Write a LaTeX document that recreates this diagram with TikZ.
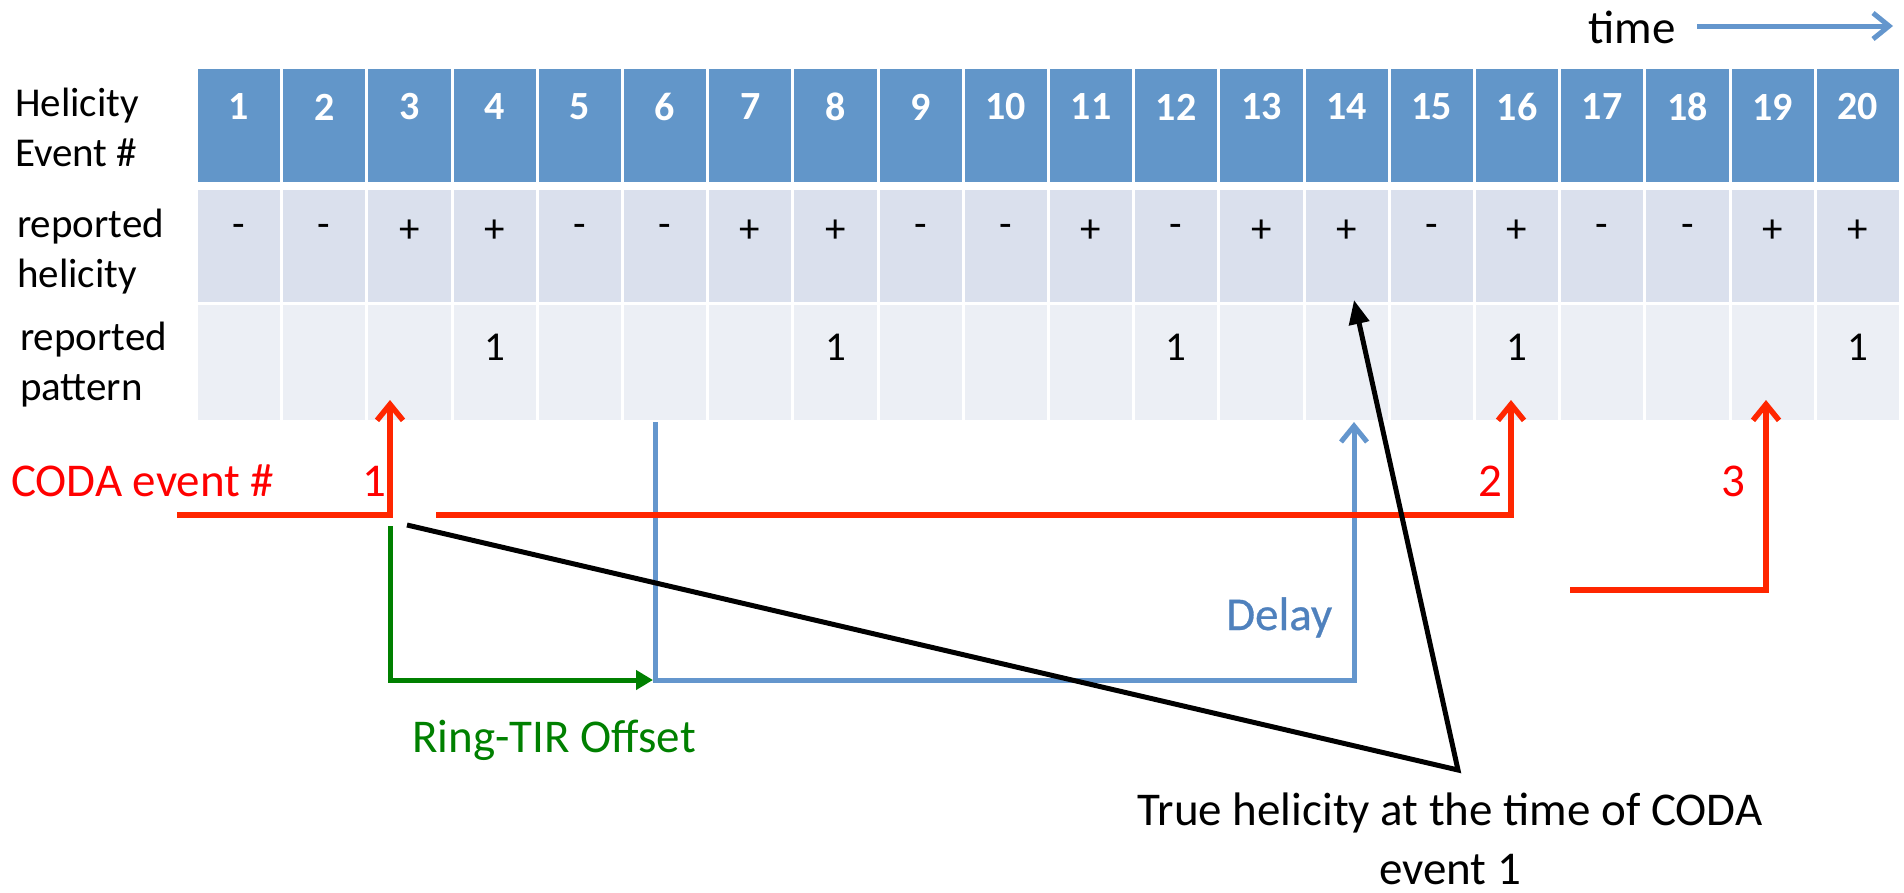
\documentclass[tikz,border=0pt]{standalone}
\usepackage{fontspec}
\setmainfont{Carlito}
\newfontfamily\delayfont[FakeBold=0.6]{Carlito}
\usetikzlibrary{arrows.meta}
\definecolor{hdr}{RGB}{98,150,201}
\definecolor{rowa}{RGB}{218,224,237}
\definecolor{rowb}{RGB}{236,239,245}
\definecolor{redline}{RGB}{255,38,0}
\definecolor{redtext}{RGB}{255,0,0}
\definecolor{grn}{RGB}{0,128,0}
\definecolor{bluel}{RGB}{100,150,205}
\definecolor{bluet}{RGB}{79,129,189}
\begin{document}
\begin{tikzpicture}[x=1pt,y=-1pt,
  lbl/.style={font=\fontsize{41}{50}\selectfont, align=left, inner sep=0pt, anchor=base west},
  hnum/.style={font=\fontsize{40}{48}\selectfont\bfseries, text=white, inner sep=0pt},
  cellt/.style={font=\fontsize{41}{48}\selectfont, inner sep=0pt},
  ann/.style={font=\fontsize{47}{59}\selectfont, inner sep=0pt},
  redarr/.style={draw=redline, line width=5.5pt, -{Straight Barb[length=16pt,width=26pt]}},
  bluearr/.style={draw=bluel, line width=5pt, -{Straight Barb[length=16pt,width=26pt]}},
  grnarr/.style={draw=grn, line width=5pt, -{Triangle[length=17pt,width=19pt]}},
  blkarr/.style={draw=black, line width=5pt, -{Triangle[length=24pt,width=20pt]}}]
\useasboundingbox (0,0) rectangle (1904,892);

% table
\foreach \i in {1,...,20}{
  \pgfmathsetmacro{\xl}{196.4+(\i-1)*85.2}
  \pgfmathsetmacro{\xr}{\xl+85.2}
  \pgfmathsetmacro{\xc}{\xl+42.6}
  \fill[hdr] (\xl+1.5,69) rectangle (\xr-1.5,182);
  \fill[rowa] (\xl+1.5,190) rectangle (\xr-1.5,302);
  \fill[rowb] (\xl+1.5,305) rectangle (\xr-1.5,420);
  \node[hnum] (h\i) at (\xc,107) {\i};
}
\foreach \i/\s in {1/-,2/-,3/+,4/+,5/-,6/-,7/+,8/+,9/-,10/-,11/+,12/-,13/+,14/+,15/-,16/+,17/-,18/-,19/+,20/+}{
  \pgfmathsetmacro{\xc}{196.4+(\i-1)*85.2+42.6}
  \node[cellt] (s\i) at (\xc,231) {\s};
}
\foreach \i in {4,8,12,16,20}{
  \pgfmathsetmacro{\xc}{196.4+(\i-1)*85.2+42.6}
  \node[cellt] (p\i) at (\xc,347) {1};
}

% row labels (base = last line)
\node[lbl] (l1) at (15,166) {Helicity\\Event \#};
\node[lbl] (l2) at (17,287) {reported\\helicity};
\node[lbl] (l3) at (20,400) {reported\\pattern};

% time arrow
\node[ann, anchor=base] (time) at (1632,43) {time};
\coordinate (t0) at (1697,26);
\coordinate (t1) at (1893,26);
\draw[bluearr] (t0) -- (t1);

% CODA
\node[ann, anchor=base west, text=redtext] (coda) at (11,496) {CODA event \#};
\node[ann, anchor=base, text=redtext] (c1) at (374,496) {1};
\node[ann, anchor=base, text=redtext] (c2) at (1490,496) {2};
\node[ann, anchor=base, text=redtext] (c3) at (1733,496) {3};

\coordinate (r1a) at (177,515);
\coordinate (r1b) at (390,515);
\coordinate (r1t) at (390,400);
\coordinate (r2a) at (436,515);
\coordinate (r2b) at (1511,515);
\coordinate (r2t) at (1511,400);
\coordinate (r3a) at (1570,590);
\coordinate (r3b) at (1766,590);
\coordinate (r3t) at (1766,400);

% green / blue
\coordinate (g0) at (390,526);
\coordinate (g1) at (390,680);
\coordinate (g2) at (653,680);
\coordinate (b0) at (655,422);
\coordinate (b1) at (655,680);
\coordinate (b2) at (1354,680);
\coordinate (b3) at (1354,422);
\draw[bluearr] (b0) -- (b1) -- (b2) -- (b3);
\draw[grnarr] (g0) -- (g1) -- (g2);

\draw[redarr] (r1a) -- (r1b) -- (r1t);
\draw[redarr] (r2a) -- (r2b) -- (r2t);
\draw[redarr] (r3a) -- (r3b) -- (r3t);

\node[ann, anchor=base west, text=grn] (ring) at (412,752) {Ring-TIR Offset};
\node[ann, anchor=base west, text=bluet, font=\fontsize{47}{59}\delayfont] (delay) at (1226,630) {Delay};

% black pointer
\coordinate (k0) at (407,525);
\coordinate (k1) at (1458,770);
\coordinate (k2) at (1354,300);
\draw[blkarr] (k0) -- (k1) -- (k2);

\node[ann, anchor=base, align=center] (truth) at (1450,884) {True helicity at the time of CODA\\event 1};
\end{tikzpicture}
\end{document}
